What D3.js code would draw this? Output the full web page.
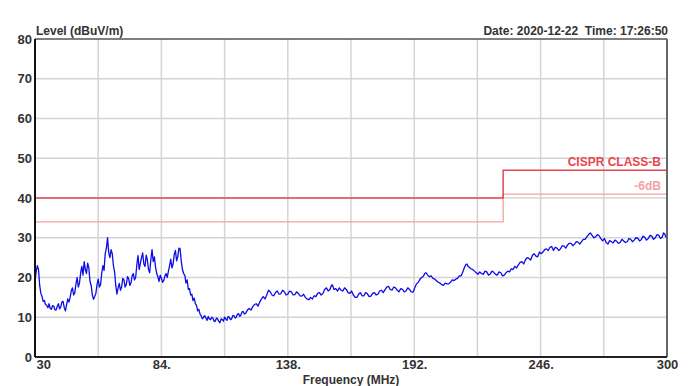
<!DOCTYPE html>
<html><head><meta charset="utf-8">
<script src="https://cdn.jsdelivr.net/npm/d3@7"></script>
<style>
html,body{margin:0;padding:0;background:#fff;}
svg{display:block;font-family:"Liberation Sans",Arial,sans-serif;}
</style></head>
<body><svg id="c" width="691" height="386"></svg>
<script>
// ---- data ----
const yTicks = [0,10,20,30,40,50,60,70,80];
const xTickValues = [30,84,138,192,246,300];
const xTickLabels = ["30","84.","138.","192.","246.","300"];
const xGrid = [57,84,111,138,165,192,219,246,273];
const yLabel = "Level (dBuV/m)";
const xLabel = "Frequency (MHz)";
const stamp = "Date: 2020-12-22\u00a0 Time: 17:26:50";

const limitFreq = [30,230,230,300];
const limitLevel = [40,40,47,47];
const limit6Level = [34,34,41,41];
const limitName = "CISPR CLASS-B";
const limit6Name = "-6dB";

const spectrum = [
[30,19.0],[30.5,21.5],[31,23.0],[31.5,22.0],[32,18.0],[32.5,16.0],[33,15.2],[33.5,14.0],[34,14.2],[34.5,13.2],
[35,13.0],[35.5,12.4],[36,13.4],[36.5,12.2],[37,12.0],[37.5,12.9],[38,12.8],[38.5,11.9],[39,11.8],[39.5,12.7],
[40,13.4],[40.5,12.1],[41,12.6],[41.5,13.8],[42,14.0],[42.5,12.4],[43,11.6],[43.5,13.2],[44,14.6],[44.5,13.8],
[45,15.0],[45.5,16.6],[46,17.4],[46.5,15.6],[47,16.2],[47.5,18.4],[48,20.0],[48.5,17.6],[49,18.6],[49.5,21.2],
[50,22.8],[50.5,20.6],[51,24.0],[51.5,22.0],[52,21.0],[52.5,23.6],[53,22.4],[53.5,19.0],[54,18.0],[54.5,15.6],
[55,14.5],[55.5,15.2],[56,16.0],[56.5,18.2],[57,19.6],[57.5,17.6],[58,18.2],[58.5,21.0],[59,23.0],[59.5,21.8],
[60,26.0],[60.5,27.4],[61,30.0],[61.5,26.2],[62,25.0],[62.5,27.0],[63,26.0],[63.5,23.0],[64,21.5],[64.5,18.0],
[65,15.8],[65.5,17.4],[66,18.5],[66.5,16.8],[67,17.6],[67.5,19.8],[68,19.4],[68.5,17.6],[69,18.2],[69.5,20.2],
[70,19.8],[70.5,18.0],[71,18.6],[71.5,20.4],[72,21.0],[72.5,19.4],[73,20.0],[73.5,23.2],[74,25.5],[74.5,22.0],
[75,23.5],[75.5,25.0],[76,26.2],[76.5,23.4],[77,22.8],[77.5,25.6],[78,24.4],[78.5,22.0],[79,21.2],[79.5,24.6],
[80,27.0],[80.5,24.0],[81,25.2],[81.5,22.6],[82,21.0],[82.5,20.2],[83,19.0],[83.5,20.6],[84,19.8],[84.5,18.8],
[85,19.2],[85.5,20.4],[86,21.0],[86.5,20.0],[87,21.6],[87.5,23.0],[88,24.6],[88.5,22.4],[89,23.4],[89.5,25.8],
[90,26.8],[90.5,24.2],[91,25.2],[91.5,27.4],[92,27.2],[92.5,24.0],[93,22.0],[93.5,21.0],[94,20.6],[94.5,18.6],
[95,19.4],[95.5,17.0],[96,17.2],[96.5,15.6],[97,15.8],[97.5,14.2],[98,14.8],[98.5,13.4],[99,13.0],[99.5,11.6],
[100,12.0],[100.5,10.8],[101,10.4],[101.5,9.6],[102,10.0],[102.5,10.4],[103,9.8],[103.5,9.2],[104,10.2],[104.5,9.6],
[105,9.4],[105.5,10.0],[106,9.8],[106.5,9.0],[107,9.0],[107.5,9.8],[108,9.6],[108.5,9.0],[109,8.6],[109.5,9.6],
[110,9.4],[110.5,9.0],[111,10.0],[111.5,9.6],[112,9.2],[112.5,10.2],[113,10.0],[113.5,9.4],[114,9.6],[114.5,10.4],
[115,10.4],[115.5,9.8],[116,10.0],[116.5,10.8],[117,10.9],[117.5,10.2],[118,10.6],[118.5,11.4],[119,11.4],[119.5,10.8],
[120,11.0],[120.75,11.8],[121.5,12.2],[122.25,11.8],[123,12.6],[123.75,13.2],[124.5,13.4],[125.25,12.8],[126,13.8],[126.75,14.6],
[127.5,15.2],[128.25,14.6],[129,15.6],[129.75,16.8],[130.5,16.4],[131.25,15.6],[132,15.4],[132.75,16.2],[133.5,16.6],[134.25,15.8],
[135,15.9],[135.75,16.8],[136.5,16.4],[137.25,15.6],[138,15.8],[138.75,16.6],[139.5,16.4],[140.25,15.6],[141,15.7],[141.75,16.4],
[142.5,16.0],[143.25,15.4],[144,15.3],[144.75,15.8],[145.5,15.0],[146.25,14.6],[147,14.4],[147.75,15.0],[148.5,14.6],[149.25,15.4],
[150,15.2],[150.75,16.0],[151.5,16.2],[152.25,15.6],[153,16.0],[153.75,17.0],[154.5,17.4],[155.25,16.6],[156,17.0],[156.5,17.8],
[157,18.2],[157.75,17.0],[158.5,17.2],[159.25,16.6],[160,17.4],[160.75,16.8],[161.5,16.6],[162.25,17.4],[163,17.0],[163.75,16.2],
[164.5,16.0],[165.25,16.6],[166,15.6],[166.75,15.0],[167.5,15.0],[168.25,15.8],[169,16.2],[169.75,15.4],[170.5,15.4],[171.25,16.2],
[172,15.9],[172.75,15.2],[173.5,15.3],[174.25,16.0],[175,16.2],[175.75,15.6],[176.5,15.8],[177.25,16.6],[178,16.8],[178.75,16.2],
[179.5,16.9],[180.25,17.6],[181,17.8],[181.75,17.0],[182.5,16.8],[183.25,17.6],[184,17.4],[184.75,16.8],[185.5,16.4],[186.25,17.2],
[187,17.0],[187.75,16.4],[188.5,16.6],[189.25,17.4],[190,17.0],[190.75,16.4],[191.5,16.3],[192.25,17.4],[193,18.4],[193.75,18.8],
[194.5,19.6],[195.25,20.0],[196,20.4],[196.5,21.0],[197,21.2],[197.75,20.6],[198.5,20.2],[199.25,20.4],[200,19.8],[200.75,19.6],
[201.5,19.2],[202.25,18.8],[203,18.6],[203.75,18.2],[204.5,18.0],[205.25,18.6],[206,18.4],[206.75,18.4],[207.5,18.8],[208.25,19.4],
[209,19.2],[209.75,19.6],[210.5,19.8],[211.25,20.4],[212,20.4],[212.75,21.4],[213.5,22.6],[214,23.2],[214.5,23.4],[215,22.8],
[215.5,22.6],[216.25,22.2],[217,22.0],[217.75,21.6],[218.5,21.2],[219.25,20.8],[220,21.4],[220.75,21.0],[221.5,20.8],[222.25,21.6],
[223,21.4],[223.75,20.6],[224.5,20.9],[225.25,21.6],[226,21.3],[226.75,20.8],[227.5,20.6],[228.25,21.4],[229,21.2],[229.75,20.4],
[230.5,20.6],[231.25,21.2],[232,21.6],[232.75,21.4],[233.5,22.2],[234.25,22.0],[235,22.8],[235.75,22.4],[236.5,23.2],[237.25,23.8],
[238,24.0],[238.75,23.4],[239.5,24.4],[240.25,25.0],[241,24.8],[241.75,24.4],[242.5,25.6],[243.25,26.0],[244,25.4],[244.75,25.2],
[245.5,26.4],[246.25,26.0],[247,26.4],[247.75,27.0],[248.5,27.2],[249.25,26.8],[250,27.6],[250.75,27.8],[251.5,26.8],[252.25,27.6],
[253,27.4],[253.75,26.8],[254.5,27.2],[255.25,28.0],[256,27.9],[256.75,27.4],[257.5,28.2],[258.25,28.6],[259,28.6],[259.75,28.0],
[260.5,28.4],[261.25,29.0],[262,28.9],[262.75,28.4],[263.5,29.0],[264.25,29.6],[265,29.6],[265.75,30.2],[266.5,30.8],[267.25,31.2],
[268,30.6],[268.75,30.0],[269.5,30.2],[270.25,30.8],[271,30.5],[271.75,29.8],[272.5,29.2],[273.25,29.8],[274,28.8],[274.75,28.4],
[275.5,29.3],[276.25,29.0],[277,28.7],[277.75,29.4],[278.5,29.1],[279.25,28.6],[280,28.8],[280.75,29.6],[281.5,29.2],[282.25,28.8],
[283,29.0],[283.75,29.8],[284.5,29.6],[285.25,29.0],[286,29.4],[286.75,30.0],[287.5,29.9],[288.25,29.2],[289,29.5],[289.75,30.4],
[290.5,30.1],[291.25,29.4],[292,29.8],[292.75,30.6],[293.5,30.4],[294.25,29.6],[295,30.0],[295.75,30.8],[296.5,30.6],[297.25,29.8],
[298,30.2],[298.5,31.2],[299,31.0],[299.5,30.2],[300,30.6]
];

// ---- drawing ----
const svg = d3.select("#c");
const L=35,R=667,T=39,B=357;
const x = d3.scaleLinear().domain([30,300]).range([L,R]);
const y = d3.scaleLinear().domain([0,80]).range([B,T]);
const FONT = "'Liberation Sans',Arial,sans-serif";

// grid
svg.append("g").selectAll("line").data(xGrid).join("line")
  .attr("x1",d=>x(d)).attr("x2",d=>x(d)).attr("y1",T).attr("y2",B)
  .attr("stroke","#d4d4d4").attr("stroke-width",1.5);
svg.append("g").selectAll("line").data(yTicks.filter(v=>v>0&&v<80)).join("line")
  .attr("x1",L).attr("x2",R).attr("y1",d=>y(d)).attr("y2",d=>y(d))
  .attr("stroke","#d4d4d4").attr("stroke-width",1.5);

// limit lines
const lim = limitFreq.map((f,i)=>({f,a:limitLevel[i],b:limit6Level[i]}));
svg.append("path").datum(lim)
  .attr("d",d3.line().x(d=>x(d.f)).y(d=>y(d.b)))
  .attr("fill","none").attr("stroke","#f2a2a2").attr("stroke-width",1.3);
svg.append("path").datum(lim)
  .attr("d",d3.line().x(d=>x(d.f)).y(d=>y(d.a)))
  .attr("fill","none").attr("stroke","#e8474f").attr("stroke-width",1.5);

// trace
svg.append("path").datum(spectrum)
  .attr("d",d3.line().x(d=>x(d[0])).y(d=>y(d[1])))
  .attr("fill","none").attr("stroke","#0c0ce8").attr("stroke-width",1.3)
  .attr("stroke-linejoin","round");

// frame
svg.append("line").attr("x1",L).attr("x2",R).attr("y1",T).attr("y2",T).attr("stroke","#555").attr("stroke-width",1.5);
svg.append("line").attr("x1",R).attr("x2",R).attr("y1",T).attr("y2",B).attr("stroke","#666").attr("stroke-width",2);
svg.append("line").attr("x1",L).attr("x2",R).attr("y1",B).attr("y2",B).attr("stroke","#222").attr("stroke-width",2);
svg.append("line").attr("x1",L).attr("x2",L).attr("y1",T).attr("y2",B).attr("stroke","#111").attr("stroke-width",2);

// axes labels
const ya = svg.append("g").attr("transform",`translate(${L},0)`)
  .call(d3.axisLeft(y).tickValues(yTicks).tickSize(0).tickPadding(3));
ya.select(".domain").remove();
ya.selectAll("text").attr("font-size",13).attr("font-weight","bold").attr("fill","#333").attr("font-family",FONT);

const xa = svg.append("g").attr("transform",`translate(0,${B})`)
  .call(d3.axisBottom(x).tickValues(xTickValues).tickFormat((d,i)=>xTickLabels[i]).tickSize(0).tickPadding(3));
xa.select(".domain").remove();
xa.selectAll("text").attr("font-size",13).attr("font-weight","bold").attr("fill","#333").attr("font-family",FONT);
xa.selectAll("text").filter((d,i)=>i===0).attr("text-anchor","start").attr("dx",1);

svg.append("text").attr("x",36).attr("y",35).text(yLabel)
  .attr("font-size",12).attr("font-weight","bold").attr("fill","#333");
svg.append("text").attr("x",668).attr("y",35).attr("text-anchor","end").text(stamp)
  .attr("font-size",12).attr("font-weight","bold").attr("fill","#333");
svg.append("text").attr("x",351).attr("y",384).attr("text-anchor","middle").text(xLabel)
  .attr("font-size",12).attr("font-weight","bold").attr("fill","#333");

svg.append("text").attr("x",661).attr("y",y(47)-4).attr("text-anchor","end").text(limitName)
  .attr("font-size",12).attr("font-weight","bold").attr("fill","#e8474f");
svg.append("text").attr("x",661).attr("y",y(41)-4).attr("text-anchor","end").text(limit6Name)
  .attr("font-size",12).attr("font-weight","bold").attr("fill","#f2a2a2");
</script></body></html>
